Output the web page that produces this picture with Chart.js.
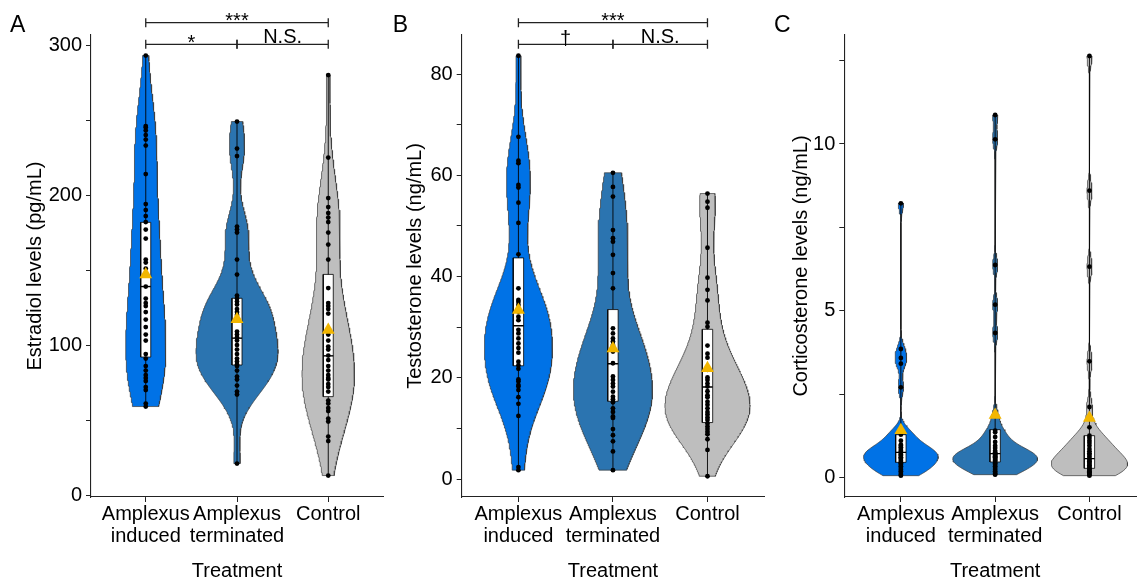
<!DOCTYPE html>
<html><head><meta charset="utf-8">
<script src="https://cdn.jsdelivr.net/npm/chart.js"></script>
<style>
html,body{margin:0;padding:0;background:#fff;overflow:hidden;width:1137px;height:581px;position:relative;}
canvas{position:absolute;top:0;}
</style></head><body>
<canvas id="cA" style="left:0px" width="385" height="581"></canvas>
<canvas id="cB" style="left:385px" width="385" height="581"></canvas>
<canvas id="cC" style="left:770px" width="380" height="581"></canvas>
<script>
// ---------------- DATA ----------------
const categories = [['Amplexus', 'induced'], ['Amplexus', 'terminated'], ['Control']];
const xTitle = 'Treatment';

const estradiolInduced = [293, 246, 245, 243, 240, 237, 233, 214, 194, 190, 186, 182, 177, 171, 157, 155, 151, 139, 131, 128, 126, 122, 117, 112, 107, 103, 94, 91, 86, 83, 80, 78, 76, 72, 70, 61, 59];
const estradiolTerminated = [249, 231, 226, 179, 177, 175, 157, 147, 133, 131, 129, 127, 124, 122, 120, 118, 109, 107, 105, 103, 100, 97, 94, 91, 89, 87, 86, 83, 79, 77, 73, 69, 67, 21];
const estradiolControl = [280, 225, 198, 192, 188, 185, 182, 175, 167, 157, 138, 128, 126, 124, 121, 110, 107, 103, 99, 97, 93, 90, 86, 83, 80, 78, 77, 74, 72, 69, 63, 61, 58, 56, 51, 49, 39, 36, 13];
const estradiolQ1 = [92, 86.7, 65.6];
const estradiolMedian = [139, 104.6, 92.8];
const estradiolQ3 = [181.8, 131.2, 147.1];
const estradiolMean = [147, 117.2, 110];
const estradiolPeakDensity = [0.49, 1, 0.64];   // relative peak density of each violin
const estradiolTicks = [0, 100, 200, 300];
const estradiolMinorTicks = [50, 150, 250];

const testosteroneInduced = [83.6, 67.6, 62.9, 62.4, 58.1, 57.6, 54.6, 50.6, 44.4, 37.7, 35.4, 35.0, 34.4, 33.7, 33.1, 32.1, 31.4, 29.5, 28.8, 27.8, 26.8, 25.9, 25.0, 23.2, 22.5, 21.8, 19.7, 19.3, 18.6, 18.3, 17.6, 16.2, 14.9, 12.5, 2.4, 1.8];
const testosteroneTerminated = [60.5, 57.7, 55.8, 49.2, 47.6, 46.9, 44.3, 40.7, 37.7, 29.8, 28.8, 27.8, 27.2, 26.5, 25.8, 25.2, 22.9, 20.3, 19.6, 18.9, 18.3, 17.3, 16.3, 15.8, 15.2, 14.0, 13.3, 12.4, 12.1, 9.9, 8.7, 7.5, 5.5, 1.8];
const testosteroneControl = [56.4, 54.8, 53.6, 45.7, 39.8, 37.4, 35.3, 30.9, 30.1, 26.4, 24.8, 24.0, 21.9, 21.6, 20.1, 19.6, 18.9, 18.3, 17.4, 16.6, 16.2, 15.3, 14.7, 14.0, 13.3, 12.8, 12.2, 11.7, 11.0, 10.4, 9.9, 9.4, 8.9, 7.9, 5.8, 0.6];
const testosteroneQ1 = [22.4, 15.4, 11.2];
const testosteroneMedian = [30.3, 22.8, 18.2];
const testosteroneQ3 = [43.7, 33.5, 29.6];
const testosteroneMean = [33.4, 25.8, 21.9];
const testosteronePeakDensity = [0.80, 0.93, 1];
const testosteroneTicks = [0, 20, 40, 60, 80];
const testosteroneMinorTicks = [10, 30, 50, 70];

const corticosteroneInduced = [8.22, 3.85, 3.58, 3.41, 2.70, 1.35, 1.33, 1.28, 1.10, 0.98, 0.95, 0.90, 0.85, 0.80, 0.75, 0.75, 0.70, 0.68, 0.65, 0.60, 0.58, 0.55, 0.50, 0.45, 0.42, 0.38, 0.33, 0.28, 0.23, 0.18, 0.13, 0.08, 0.05];
const corticosteroneTerminated = [10.87, 10.14, 6.37, 5.18, 4.33, 1.85, 1.40, 1.35, 1.21, 1.06, 0.95, 0.88, 0.80, 0.75, 0.71, 0.70, 0.68, 0.65, 0.63, 0.60, 0.58, 0.55, 0.52, 0.50, 0.46, 0.42, 0.38, 0.33, 0.28, 0.23, 0.18, 0.13, 0.10, 0.08];
const corticosteroneControl = [12.64, 8.60, 6.32, 3.48, 2.11, 1.50, 1.25, 1.18, 1.10, 1.03, 0.95, 0.85, 0.78, 0.72, 0.68, 0.62, 0.56, 0.52, 0.48, 0.44, 0.40, 0.36, 0.32, 0.28, 0.25, 0.22, 0.18, 0.15, 0.11, 0.08, 0.05];
const corticosteroneQ1 = [0.45, 0.46, 0.27];
const corticosteroneMedian = [0.75, 0.71, 0.56];
const corticosteroneQ3 = [1.28, 1.43, 1.25];
const corticosteroneMean = [1.41, 1.87, 1.78];
const corticosteronePeakDensity = [0.88, 1, 0.90];
const corticosteroneTicks = [0, 5, 10];
const corticosteroneMinorTicks = [2.5, 7.5, 12.5];

// significance brackets: from / to category, level (0 = lower row, 1 = upper row), label
const estradiolBrackets = [
  {from: 1, to: 2, level: 0, label: '*'},
  {from: 2, to: 3, level: 0, label: 'N.S.'},
  {from: 1, to: 3, level: 1, label: '***'}
];
const testosteroneBrackets = [
  {from: 1, to: 2, level: 0, label: '\u2020'},
  {from: 2, to: 3, level: 0, label: 'N.S.'},
  {from: 1, to: 3, level: 1, label: '***'}
];

// ---------------- STYLE ----------------
const FONT = '"Liberation Sans", Arial, Helvetica, sans-serif';
const violinColors = ['#0072E6', '#2B74B0', '#BEBEBE'];
const outlineColor = '#3a3a3a';
const meanColor = '#F2B600';
const BOX_HALF = 0.055;
const VIOLIN_HALF = 0.45;
const labelLift = {'*': -5.5, '***': -6.2, '\u2020': -6.8, 'N.S.': -8.7};

// gaussian kernel density (bw.nrd0), trimmed to data range
function kde(vals, nGrid) {
  const s = [...vals].sort((a, b) => a - b);
  const n = s.length;
  const mean = s.reduce((a, b) => a + b, 0) / n;
  const sd = Math.sqrt(s.reduce((a, b) => a + (b - mean) * (b - mean), 0) / (n - 1));
  const q = p => { const h = (n - 1) * p; const lo = Math.floor(h); const hi = Math.min(lo + 1, n - 1); return s[lo] + (h - lo) * (s[hi] - s[lo]); };
  const iqr = q(0.75) - q(0.25);
  let lo = Math.min(sd, iqr / 1.34);
  if (!(lo > 0)) lo = sd || 1;
  const bw = 0.9 * lo * Math.pow(n, -0.2);
  const ys = [], ds = [];
  for (let i = 0; i < nGrid; i++) {
    const y = s[0] + (s[n - 1] - s[0]) * i / (nGrid - 1);
    let d = 0;
    for (const v of s) { const z = (y - v) / bw; d += Math.exp(-0.5 * z * z); }
    ys.push(y); ds.push(d / (n * bw * Math.sqrt(2 * Math.PI)));
  }
  return {ys, ds};
}

const bracketPlugin = {
  id: 'brackets',
  afterDraw(chart, args, opts) {
    const {ctx, chartArea, scales: {x}} = chart;
    ctx.save();
    ctx.strokeStyle = '#222';
    ctx.lineWidth = 1.3;
    ctx.fillStyle = '#000';
    ctx.font = '20px ' + FONT;
    ctx.textAlign = 'center';
    ctx.textBaseline = 'alphabetic';
    for (const b of (opts.items || [])) {
      const py = chartArea.top + 9.3 - b.level * 21.6;
      const x1 = x.getPixelForValue(b.from), x2 = x.getPixelForValue(b.to);
      ctx.beginPath();
      ctx.moveTo(x1, py); ctx.lineTo(x2, py);
      ctx.moveTo(x1, py - 4.5); ctx.lineTo(x1, py + 4.5);
      ctx.moveTo(x2, py - 4.5); ctx.lineTo(x2, py + 4.5);
      ctx.stroke();
      const m = ctx.measureText(b.label);
      const cy = py + (labelLift[b.label] || -6);
      const base = cy + (m.actualBoundingBoxAscent - m.actualBoundingBoxDescent) / 2;
      ctx.fillText(b.label, x.getPixelForValue((b.from + b.to) / 2), base);
    }
    if (opts.letter) {
      ctx.font = '23px ' + FONT;
      ctx.textAlign = 'left';
      ctx.fillText(opts.letter, opts.letterX, 32.3);
    }
    ctx.restore();
  }
};

function buildPanel(canvasId, cfg) {
  const datasets = [];
  cfg.groups.forEach((vals, i) => {
    const c = i + 1;
    const {ys, ds} = kde(vals, 256);
    const dMax = Math.max(...ds);
    const w = k => VIOLIN_HALF * cfg.peak[i] * ds[k] / dMax;
    const poly = [];
    for (let k = 0; k < ys.length; k++) poly.push({x: c - w(k), y: ys[k]});
    for (let k = ys.length - 1; k >= 0; k--) poly.push({x: c + w(k), y: ys[k]});
    poly.push(poly[0]);
    datasets.push({type: 'scatter', data: poly, showLine: true, fill: 'shape', backgroundColor: violinColors[i],
      borderColor: outlineColor, borderWidth: 0.7, pointRadius: 0, tension: 0, order: 10});
    const mn = Math.min(...vals), mx = Math.max(...vals);
    datasets.push({type: 'scatter', data: [{x: c, y: mn}, {x: c, y: mx}], showLine: true, borderColor: '#000',
      borderWidth: 0.9, pointRadius: 0, order: 9});
    const q1 = cfg.q1[i], q3 = cfg.q3[i];
    datasets.push({type: 'scatter', data: [{x: c - BOX_HALF, y: q1}, {x: c + BOX_HALF, y: q1}, {x: c + BOX_HALF, y: q3}, {x: c - BOX_HALF, y: q3}, {x: c - BOX_HALF, y: q1}],
      showLine: true, fill: 'shape', backgroundColor: '#fff', borderColor: '#000', borderWidth: 0.8, pointRadius: 0, order: 8});
    datasets.push({type: 'scatter', data: [{x: c - BOX_HALF, y: cfg.median[i]}, {x: c + BOX_HALF, y: cfg.median[i]}],
      showLine: true, borderColor: '#000', borderWidth: 1.4, pointRadius: 0, order: 7});
    datasets.push({type: 'scatter', data: vals.map(v => ({x: c, y: v})), pointRadius: 2.4, pointBackgroundColor: '#000',
      pointBorderWidth: 0, order: 6});
    datasets.push({type: 'scatter', data: [{x: c, y: cfg.mean[i]}], pointStyle: 'triangle', pointRadius: 7.5,
      pointBackgroundColor: meanColor, pointBorderWidth: 0, order: 5});
  });
  const allTicks = [...cfg.ticks, ...cfg.minor].sort((a, b) => a - b);
  const tickFont = {family: FONT, size: 20};
  return new Chart(document.getElementById(canvasId), {
    type: 'scatter',
    data: {datasets},
    options: {
      responsive: false, animation: false, devicePixelRatio: 1,
      layout: {autoPadding: false, padding: {top: 35, right: cfg.padRight, left: 0, bottom: 0}},
      plugins: {legend: {display: false}, tooltip: {enabled: false},
        brackets: {items: cfg.brackets || [], letter: cfg.letter, letterX: cfg.letterX}},
      scales: {
        x: {type: 'linear', min: 0.4, max: 3.6,
          afterBuildTicks: s => { s.ticks = [1, 2, 3].map(v => ({value: v})); },
          afterFit: s => { s.height = 84; s.paddingLeft = 0; s.paddingRight = 0; },
          ticks: {callback: v => categories[Math.round(v) - 1], color: '#000', font: {family: FONT, size: 20, lineHeight: 1.1},
            padding: 1, maxRotation: 0, minRotation: 0, autoSkip: false},
          grid: {drawOnChartArea: false, drawTicks: true, tickLength: 5, tickColor: '#222', tickWidth: 1},
          border: {display: true, color: '#222', width: 1.1},
          title: {display: true, text: xTitle, color: '#000', font: {family: FONT, size: 20, lineHeight: 1}, padding: 0}
        },
        y: {type: 'linear', min: cfg.yMin, max: cfg.yMax,
          afterBuildTicks: s => { s.ticks = allTicks.map(v => ({value: v})); },
          afterFit: s => { s.width = cfg.axisX; s.paddingTop = 0; s.paddingBottom = 0; },
          ticks: {callback: v => cfg.ticks.includes(v) ? String(v) : '', color: '#000', font: tickFont, padding: 4, autoSkip: false},
          grid: {drawOnChartArea: false, drawTicks: true, tickLength: 5, tickColor: '#222', tickWidth: 1},
          border: {display: true, color: '#222', width: 1.1},
          title: {display: true, text: cfg.title, color: '#000', font: {family: FONT, size: 20}, padding: {top: cfg.titlePad, bottom: 0}}
        }
      }
    },
    plugins: [bracketPlugin]
  });
}

buildPanel('cA', {
  groups: [estradiolInduced, estradiolTerminated, estradiolControl],
  q1: estradiolQ1, median: estradiolMedian, q3: estradiolQ3, mean: estradiolMean, peak: estradiolPeakDensity,
  ticks: estradiolTicks, minor: estradiolMinorTicks, yMin: -1.3, yMax: 306.7,
  title: 'Estradiol levels (pg/mL)', titlePad: 23, axisX: 91, padRight: 2,
  brackets: estradiolBrackets, letter: 'A', letterX: 10
});
buildPanel('cB', {
  groups: [testosteroneInduced, testosteroneTerminated, testosteroneControl],
  q1: testosteroneQ1, median: testosteroneMedian, q3: testosteroneQ3, mean: testosteroneMean, peak: testosteronePeakDensity,
  ticks: testosteroneTicks, minor: testosteroneMinorTicks, yMin: -3.5, yMax: 87.7,
  title: 'Testosterone levels (ng/mL)', titlePad: 18, axisX: 76.7, padRight: 5.8,
  brackets: testosteroneBrackets, letter: 'B', letterX: 7.7
});
buildPanel('cC', {
  groups: [corticosteroneInduced, corticosteroneTerminated, corticosteroneControl],
  q1: corticosteroneQ1, median: corticosteroneMedian, q3: corticosteroneQ3, mean: corticosteroneMean, peak: corticosteronePeakDensity,
  ticks: corticosteroneTicks, minor: corticosteroneMinorTicks, yMin: -0.59, yMax: 13.27,
  title: 'Corticosterone levels (ng/mL)', titlePad: 19, axisX: 74.3, padRight: 4,
  brackets: [], letter: 'C', letterX: 4
});
</script>
</body></html>
